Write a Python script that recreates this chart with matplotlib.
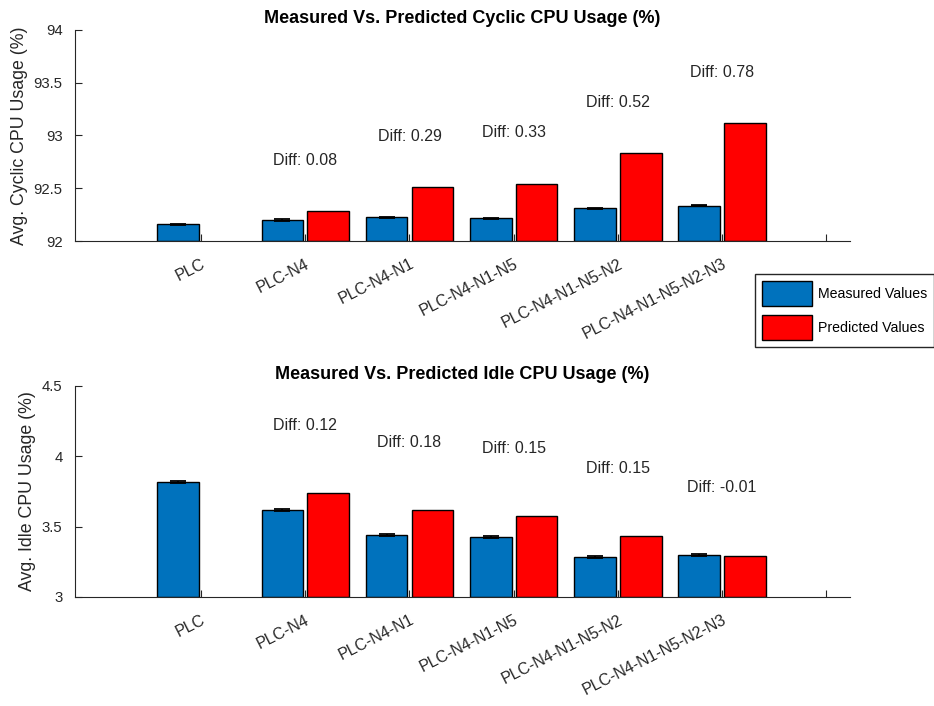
import matplotlib
matplotlib.use("Agg")
import matplotlib.pyplot as plt
import numpy as np

plt.rcParams['font.family'] = ['Liberation Sans', 'DejaVu Sans']

configs = ["PLC", "PLC-N4", "PLC-N4-N1", "PLC-N4-N1-N5",
           "PLC-N4-N1-N5-N2", "PLC-N4-N1-N5-N2-N3"]

cyclic_measured = [92.16, 92.20, 92.225, 92.215, 92.31, 92.335]
cyclic_err = [0.006, 0.006, 0.007, 0.006, 0.006, 0.007]
cyclic_predicted = [np.nan, 92.28, 92.515, 92.545, 92.83, 93.115]

idle_measured = [3.82, 3.615, 3.44, 3.425, 3.285, 3.30]
idle_err = [0.007, 0.007, 0.008, 0.008, 0.006, 0.008]
idle_predicted = [np.nan, 3.74, 3.62, 3.575, 3.435, 3.29]

BLUE = "#0072BD"
RED = "#FF0000"
AX_COLOR = "#262626"
LABEL_OFFSET = 0.48  # vertical gap between the taller bar and its "Diff" label

fig = plt.figure(figsize=(9.34, 7.06), dpi=100)
ax_top = fig.add_axes([0.0803, 0.6586, 0.830, 0.299])
ax_bot = fig.add_axes([0.0803, 0.1544, 0.830, 0.2989])


def draw_panel(ax, measured, err, predicted, ylim, yticks, ylabel, title):
    x = np.arange(1, len(configs) + 1)
    off, w = 0.22, 0.40
    meas = np.array(measured)
    pred = np.array(predicted)
    hm = ax.bar(x - off, meas - ylim[0], w, bottom=ylim[0],
                color=BLUE, edgecolor="black", linewidth=1.0,
                label="Measured Values", zorder=2)
    ax.errorbar(x - off, meas, yerr=err, fmt="none", ecolor="black",
                elinewidth=1.3, capsize=5.5, capthick=1.3, zorder=3)
    has = ~np.isnan(pred)
    hp = ax.bar(x[has] + off, pred[has] - ylim[0], w, bottom=ylim[0],
                color=RED, edgecolor="black", linewidth=1.0,
                label="Predicted Values", zorder=2)
    for xi, m, p in zip(x[has], meas[has], pred[has]):
        ax.text(xi, max(m, p) + LABEL_OFFSET, f"Diff: {p - m:.2f}",
                ha="center", va="center", fontsize=11.5, color=AX_COLOR)
    ax.set_xlim(-0.21, 7.23)
    ax.set_ylim(*ylim)
    ax.set_yticks(yticks)
    ax.set_yticklabels([f"{t:g}" for t in yticks])
    ax.set_xticks(np.arange(1, len(configs) + 2))
    ax.set_xticklabels(configs + [""], rotation=27, ha="right",
                       rotation_mode="anchor", fontsize=11.5)
    ax.tick_params(axis="both", direction="in", length=5, width=0.8,
                   colors=AX_COLOR, labelsize=10.7, pad=9)
    ax.tick_params(axis="x", pad=11, labelsize=11.5)
    for s in ("top", "right"):
        ax.spines[s].set_visible(False)
    for s in ("left", "bottom"):
        ax.spines[s].set_color(AX_COLOR)
        ax.spines[s].set_linewidth(0.8)
    ax.set_ylabel(ylabel, fontsize=12.8, color=AX_COLOR, labelpad=4)
    ax.set_title(title, fontsize=13, fontweight="bold", color="black", pad=5)
    return hm, hp


hm, hp = draw_panel(ax_top, cyclic_measured, cyclic_err, cyclic_predicted,
                    (92, 94), [92, 92.5, 93, 93.5, 94],
                    "Avg. Cyclic CPU Usage (%)",
                    "Measured Vs. Predicted Cyclic CPU Usage (%)")
draw_panel(ax_bot, idle_measured, idle_err, idle_predicted,
           (3, 4.5), [3, 3.5, 4, 4.5],
           "Avg. Idle CPU Usage (%)",
           "Measured Vs. Predicted Idle CPU Usage (%)")

fig.legend([hm, hp], ["Measured Values", "Predicted Values"],
           loc="upper left", bbox_to_anchor=(0.8084, 0.6119),
           borderaxespad=0, fontsize=10.2, handlelength=3.52,
           handleheight=2.33, frameon=True, fancybox=False,
           edgecolor="#262626", framealpha=1, borderpad=0.5,
           labelspacing=0.63, handletextpad=0.42)

fig.savefig("out.png", dpi=100)
